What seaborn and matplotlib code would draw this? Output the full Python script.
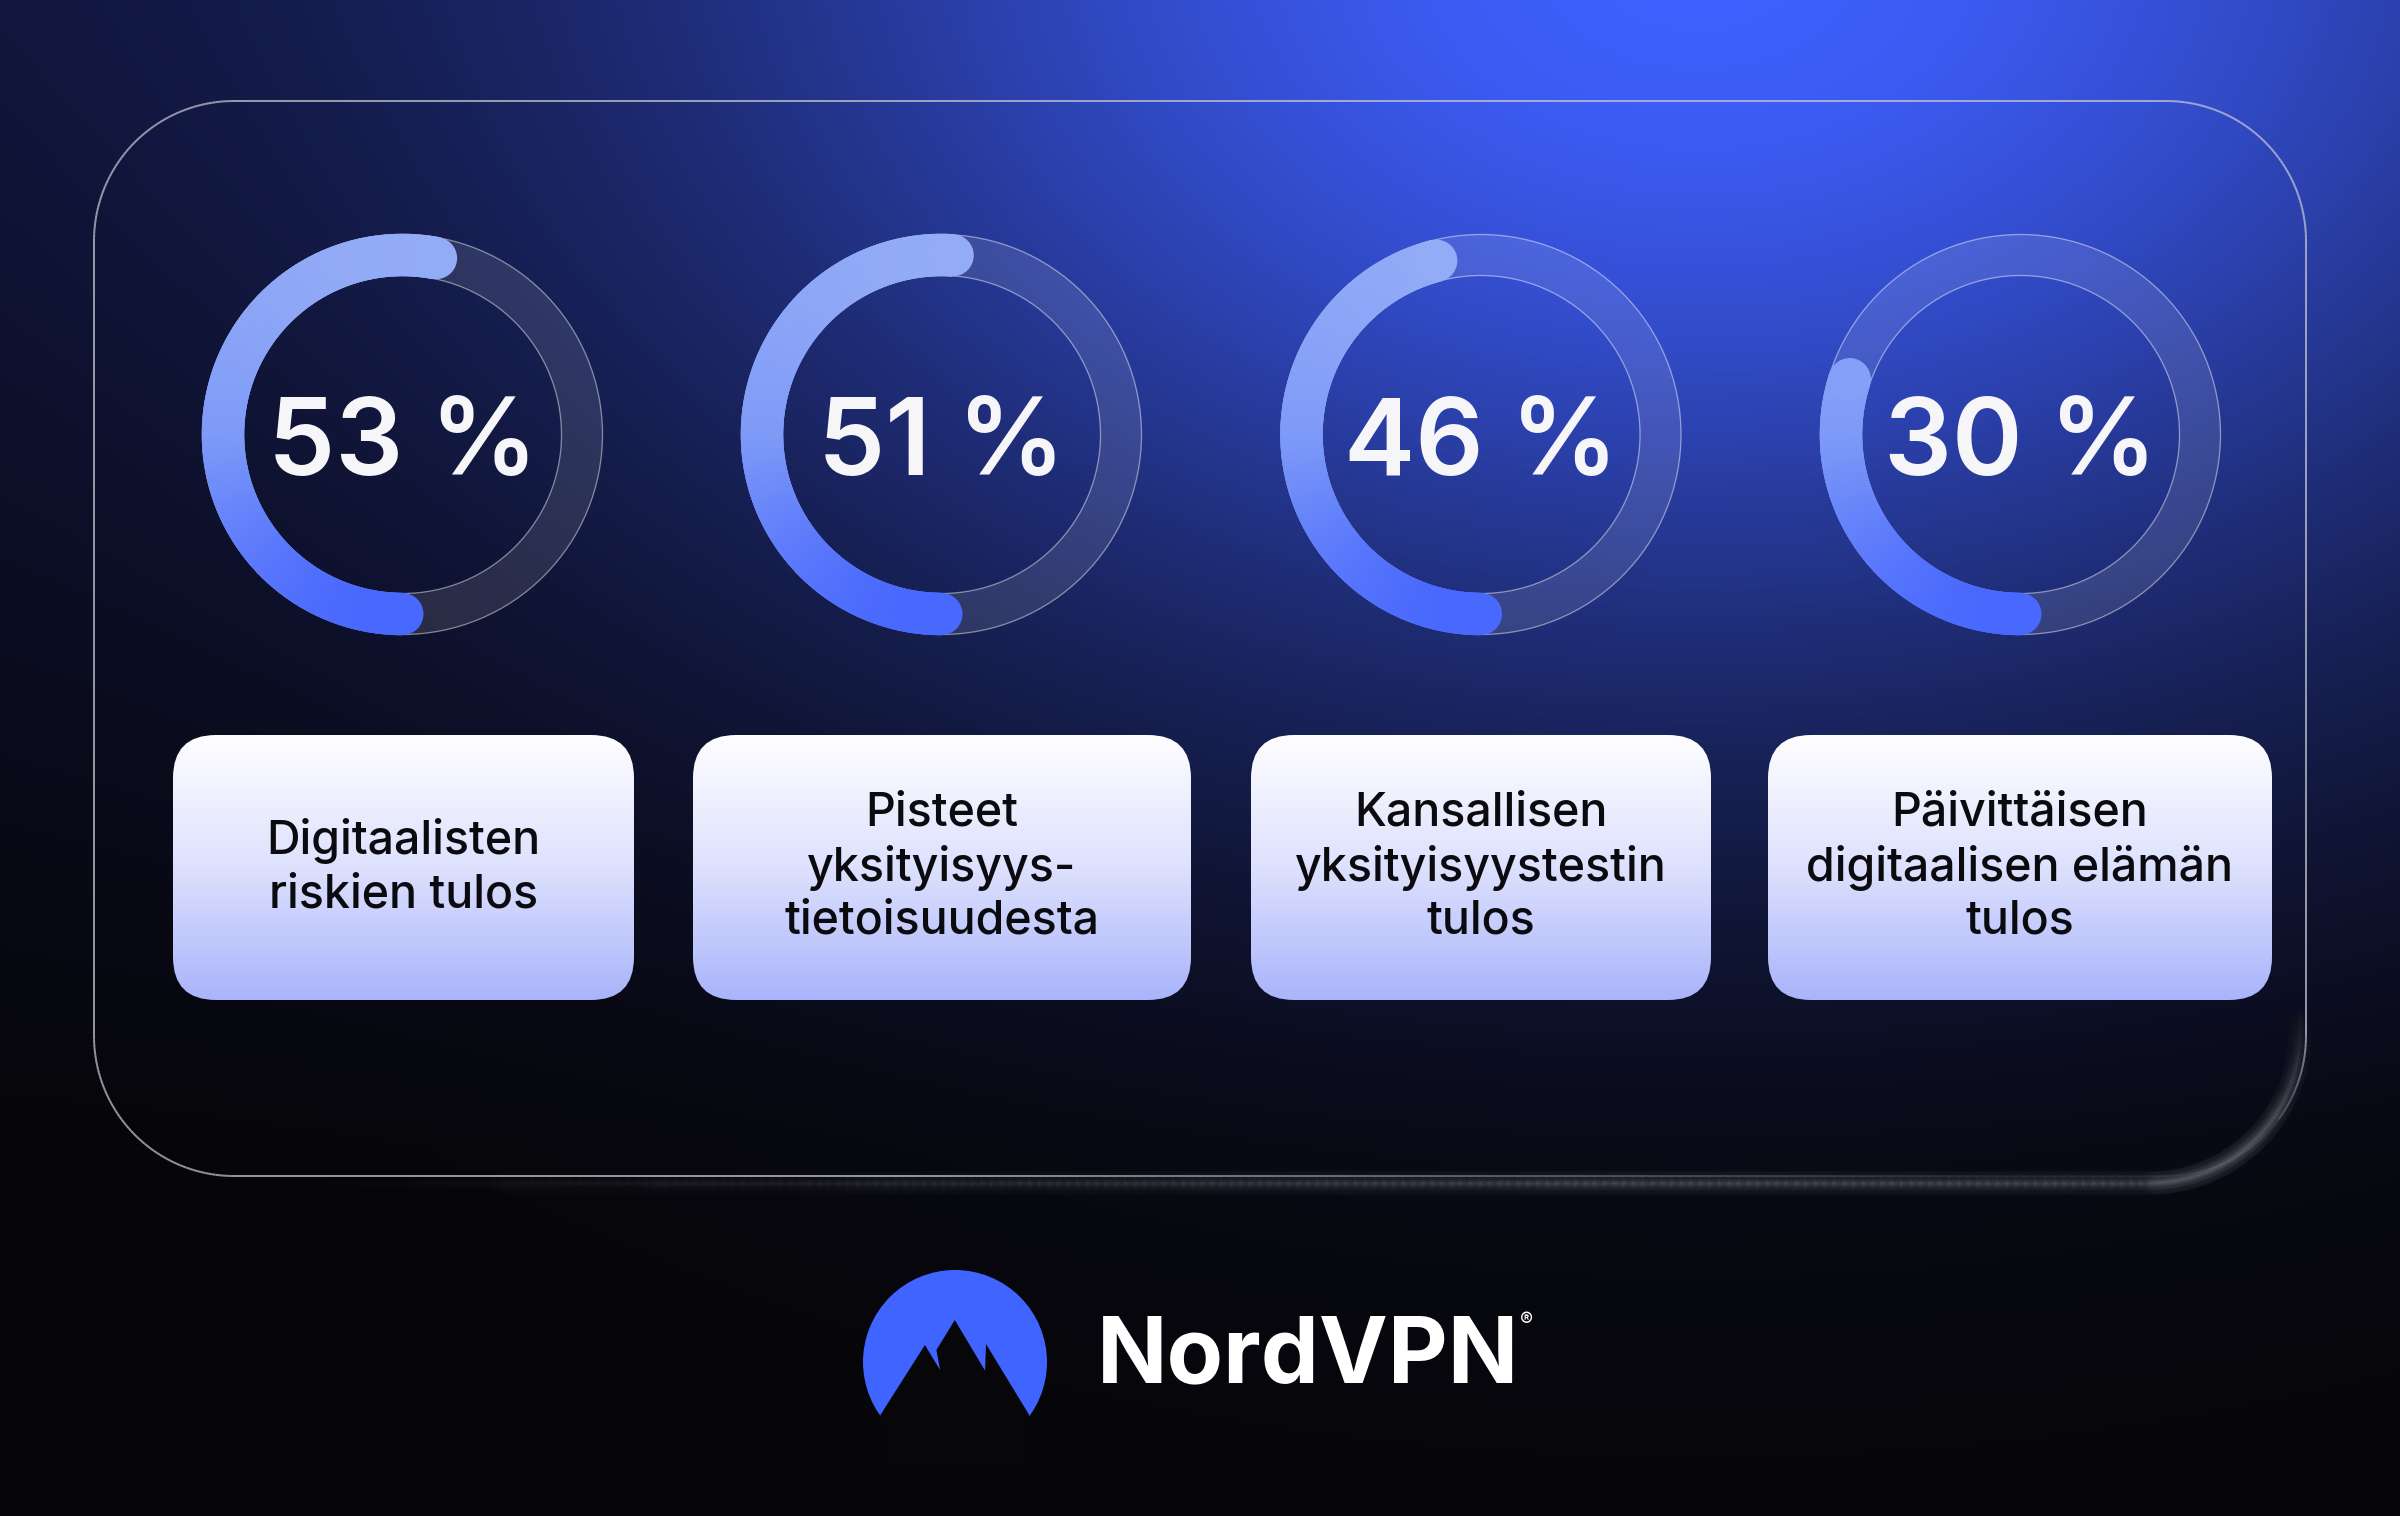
import numpy as np
import matplotlib
matplotlib.use("Agg")
import matplotlib.pyplot as plt
from matplotlib.patches import FancyBboxPatch, Wedge, Circle, Polygon
from matplotlib.collections import LineCollection
import seaborn as sns

# --- dane z grafiki ---
scores = [53, 51, 46, 30]
score_labels = ["53 %", "51 %", "46 %", "30 %"]
categories = [
    "Digitaalisten\nriskien tulos",
    "Pisteet\nyksityisyys-\ntietoisuudesta",
    "Kansallisen\nyksityisyystestin\ntulos",
    "Päivittäisen\ndigitaalisen elämän\ntulos",
]
brand = "NordVPN"

# --- układ (piksele) ---
W, H = 2400, 1516
PX = 0.72                      # 1 px w punktach przy dpi=100
ring_x = [402.5, 941.5, 1481.0, 2020.5]
ring_y = 434.5
R_OUT, R_IN = 200.0, 159.0
box_x = [(173, 634), (693, 1191), (1251, 1711), (1768, 2272)]
box_top, box_bot = 735, 1000

arc_cmap = sns.blend_palette(["#96aef7", "#7f9bf8", "#4262ff"], as_cmap=True)
box_cmap = sns.blend_palette(["#fefeff", "#dde1fd", "#a9b4fb"], as_cmap=True)


def background(ny=380, nx=600):
    yy, xx = np.mgrid[0:H:ny * 1j, 0:W:nx * 1j]
    navy = np.array([14, 18, 50]) / 255
    black = np.array([6, 5, 8]) / 255
    blue = np.array([63, 96, 255]) / 255
    t = np.clip(yy / 1150, 0, 1)[..., None]
    base = navy * (1 - t) + black * t
    w = np.exp(-(((xx - 1700) / 1000) ** 2 + ((yy + 50) / 720) ** 2))[..., None]
    return np.clip(base * (1 - w) + blue * w, 0, 1)


def rounded_rect_points(x0, y0, x1, y1, r, n=60):
    def arc(cx, cy, a0, a1):
        t = np.radians(np.linspace(a0, a1, n))
        return np.column_stack([cx + r * np.cos(t), cy + r * np.sin(t)])

    def line(p, q, m=200):
        return np.column_stack([np.linspace(p[0], q[0], m), np.linspace(p[1], q[1], m)])

    parts = [
        line((x0 + r, y0), (x1 - r, y0)),
        arc(x1 - r, y0 + r, -90, 0),
        line((x1, y0 + r), (x1, y1 - r)),
        arc(x1 - r, y1 - r, 0, 90),
        line((x1 - r, y1), (x0 + r, y1)),
        arc(x0 + r, y1 - r, 90, 180),
        line((x0, y1 - r), (x0, y0 + r)),
        arc(x0 + r, y0 + r, 180, 270),
    ]
    return np.vstack(parts)


def segments(pts):
    return np.stack([pts[:-1], pts[1:]], axis=1)


def draw_panel(ax):
    pts = rounded_rect_points(94, 101, 2306, 1176, 140)
    seg = segments(pts)
    mx, my = seg[:, :, 0].mean(1), seg[:, :, 1].mean(1)
    fade_b = np.clip((mx - 900) / 1100, 0, 1) * (my > 1120)
    fade_r = np.clip((my - 1030) / 110, 0, 1) * (mx > 2150)
    f = np.maximum(fade_b, fade_r)
    alpha = 0.72 * (1 - 0.9 * f)
    cols = np.zeros((len(seg), 4))
    cols[:, :3] = np.array([200, 202, 212]) / 255
    cols[:, 3] = alpha
    ax.add_collection(LineCollection(seg, colors=cols, linewidths=2 * PX, zorder=3))

    # rozmyty cień w prawym dolnym rogu
    gpts = rounded_rect_points(94, 101, 2300, 1183, 150)
    gseg = segments(gpts)
    gx, gy = gseg[:, :, 0].mean(1), gseg[:, :, 1].mean(1)
    g_b = np.clip((gx - 250) / 1300, 0, 1) * (gy > 1150)
    g_r = np.clip((gy - 1000) / 140, 0, 1) * (gx > 2150)
    g = np.maximum(g_b, g_r)
    for lw, a in [(24, 0.03), (14, 0.045), (7, 0.07), (3, 0.09)]:
        gc = np.zeros((len(gseg), 4))
        gc[:, :3] = np.array([150, 150, 158]) / 255
        gc[:, 3] = a * g
        ax.add_collection(LineCollection(gseg, colors=gc, linewidths=lw * PX,
                                         capstyle="round", zorder=2))


def draw_ring(ax, cx, cy, pct, label):
    r_mid = (R_OUT + R_IN) / 2
    half = (R_OUT - R_IN) / 2
    # tor (tło pierścienia)
    ax.add_patch(Wedge((cx, cy), R_OUT, 0, 360, width=R_OUT - R_IN,
                       facecolor="white", alpha=0.11, edgecolor="none", zorder=3))
    for rr in (R_OUT, R_IN):
        ax.add_patch(Circle((cx, cy), rr, fill=False, edgecolor="white",
                            alpha=0.45, linewidth=1.3 * PX, zorder=3))

    # łuk postępu: od dołu, przez lewą stronę, zgodnie z ruchem wskazówek
    sweep = 360 * pct / 100
    n = int(sweep * 2)
    phis = np.linspace(90, 90 + sweep, n + 1)

    def col_at(phi):
        y = cy + r_mid * np.sin(np.radians(phi))
        t = (y - (cy - R_OUT)) / (2 * R_OUT)
        return arc_cmap(np.clip(t, 0, 1))

    for a0, a1 in zip(phis[:-1], phis[1:]):
        c = col_at((a0 + a1) / 2)
        ax.add_patch(Wedge((cx, cy), R_OUT + 0.5, a0, a1 + 0.15, width=R_OUT - R_IN + 1,
                           facecolor=c, edgecolor=c, linewidth=0.4, zorder=4))
    for phi in (phis[0], phis[-1]):
        px = cx + r_mid * np.cos(np.radians(phi))
        py = cy + r_mid * np.sin(np.radians(phi))
        ax.add_patch(Circle((px, py), half + 0.5, facecolor=col_at(phi),
                            edgecolor="none", zorder=4))

    ax.text(cx, cy + 40, label, ha="center", va="baseline", fontsize=77,
            fontweight="semibold", color="#f6f6f8", zorder=5)


def draw_box(ax, x0, x1, text):
    patch = FancyBboxPatch((x0, box_top), x1 - x0, box_bot - box_top,
                           boxstyle="round,pad=0,rounding_size=43",
                           facecolor="none", edgecolor="none", zorder=4)
    ax.add_patch(patch)
    grad = np.linspace(0, 1, 256)[:, None]
    im = ax.imshow(grad, cmap=box_cmap, aspect="auto",
                   extent=(x0, x1, box_bot, box_top), zorder=4,
                   interpolation="bilinear")
    im.set_clip_path(patch)
    ax.text((x0 + x1) / 2, (box_top + box_bot) / 2, text, ha="center",
            va="center", fontsize=33.5, fontweight="medium", color="#0b0b0f",
            linespacing=1.27, zorder=5)


def draw_logo(ax):
    cx, cy, r = 955, 1362, 92
    ax.add_patch(Circle((cx, cy), r, facecolor="#4064ff", edgecolor="none", zorder=4))
    mountain = [
        (880.4, 1415), (924.9, 1345), (940.1, 1370), (936.4, 1350),
        (954.8, 1320), (985.1, 1370.7), (986.0, 1344), (1029.2, 1415),
        (1029.2, 1470), (880.4, 1470),
    ]
    ax.add_patch(Polygon(mountain, closed=True, facecolor="#070608",
                         edgecolor="none", zorder=5))
    ax.text(1097, 1382, brand, ha="left", va="baseline", fontsize=66.5,
            fontweight="bold", color="white", zorder=5)
    ax.text(1520, 1326, "®", ha="left", va="baseline", fontsize=14,
            color="white", zorder=5)


sns.set_theme(style="white")
plt.rcParams["font.family"] = ["Inter", "DejaVu Sans"]

fig = plt.figure(figsize=(24, 15.16), dpi=100)
ax = fig.add_axes([0, 0, 1, 1])
ax.imshow(background(), extent=(0, W, H, 0), aspect="auto",
          interpolation="bilinear", zorder=0)
ax.set_xlim(0, W)
ax.set_ylim(H, 0)
ax.axis("off")

draw_panel(ax)
for cx, pct, lab in zip(ring_x, scores, score_labels):
    draw_ring(ax, cx, ring_y, pct, lab)
for (x0, x1), txt in zip(box_x, categories):
    draw_box(ax, x0, x1, txt)
draw_logo(ax)

fig.savefig("out.png", dpi=100)
plt.close(fig)
